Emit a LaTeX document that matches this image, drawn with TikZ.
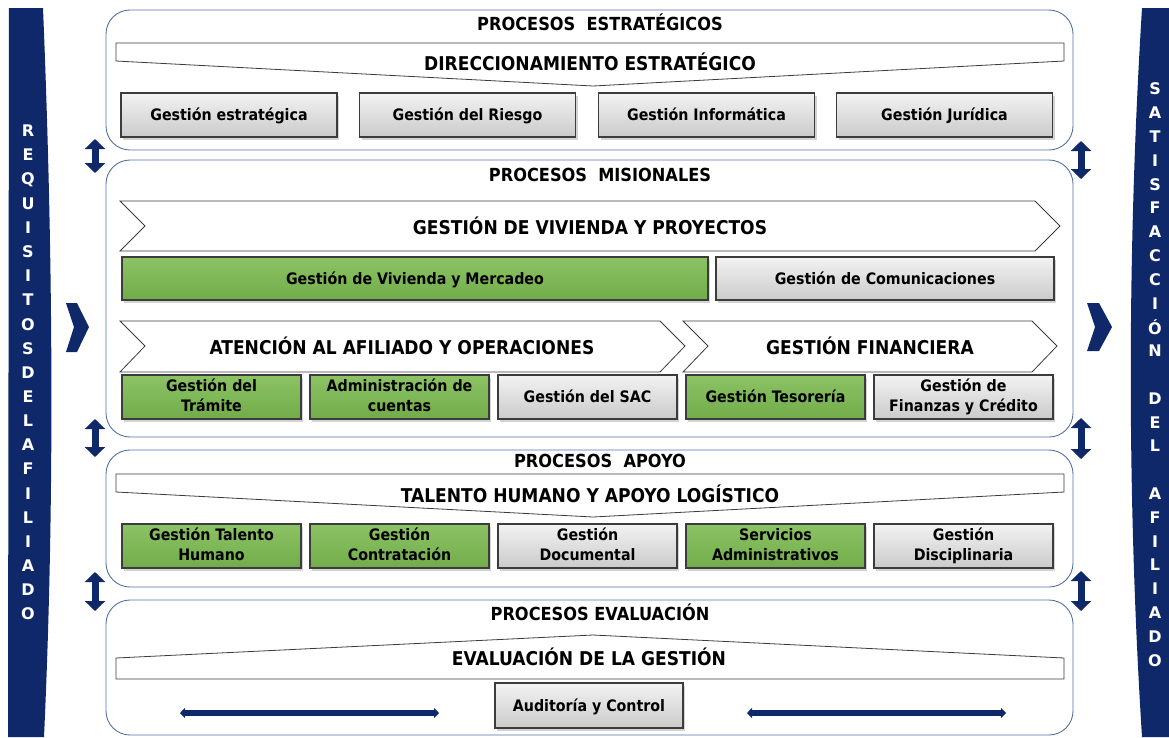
\documentclass[tikz,border=0pt]{standalone}
\usepackage{fontspec}
\usepackage{tikz}
\usetikzlibrary{arrows.meta,shadows}
\setmainfont{DejaVu Sans}
\newfontfamily\condfont{DejaVuSansCondensed-Bold.ttf}
\newfontfamily\sidefont{DejaVuSans-Bold.ttf}

\definecolor{navy}{RGB}{14,40,106}
\definecolor{panelblue}{RGB}{84,114,166}
\definecolor{procgreen}{RGB}{124,187,80}
\definecolor{procgray}{RGB}{230,230,230}
\definecolor{edgegray}{RGB}{60,60,60}

\tikzset{
  panel/.style={draw=panelblue, line width=0.9pt, rounded corners=24pt},
  band/.style={draw=edgegray, line width=0.8pt, fill=white},
  proc/.style={draw=edgegray, line width=1.1pt, top color=white!50!procgray, bottom color=procgray!88!black,
    drop shadow={shadow xshift=2pt, shadow yshift=-2.5pt, opacity=0.35},
    font=\condfont\fontsize{15.8}{19.5}\selectfont, align=center, inner sep=0pt, minimum height=44pt,
    execute at begin node={\vphantom{Ágy}}, execute at end node={\vphantom{Ágy}}},
  greenproc/.style={proc, top color=procgreen!88!white, bottom color=procgreen!92!black},
  title/.style={font=\condfont\fontsize{18}{20}\selectfont},
  bandtext/.style={font=\condfont\fontsize{19}{21}\selectfont},
  sideletter/.style={text=white, font=\sidefont\fontsize{16}{18}\selectfont},
  updown/.style={navy, line width=7pt, {Triangle[width=20pt,length=10pt]}-{Triangle[width=20pt,length=10pt]}},
  sideways/.style={navy, line width=5.5pt, {Triangle[width=10pt,length=5pt]}-{Triangle[width=10pt,length=5pt]}},
}

\begin{document}
\begin{tikzpicture}[x=1pt,y=-1pt]
  \useasboundingbox (0,0) rectangle (1169,737);

  % Side bars
  \fill[navy] (9,8) -- (43,8) .. controls (53,250) and (55,500) .. (44,737) -- (8,737) -- cycle;
  \fill[navy] (1142,8) -- (1169,8) -- (1169,737) -- (1142,737) .. controls (1127,500) and (1127,250) .. (1142,8) -- cycle;
  \foreach \l [count=\i from 0] in {R,E,Q,U,I,S,I,T,O,S,D,E,L,A,F,I,L,I,A,D,O}
    \node[sideletter] (req\i) at (28,131+24.15*\i) {\l};
  \foreach \l [count=\i from 0] in {S,A,T,I,S,F,A,C,C,I,Ó,N,{},D,E,L,{},A,F,I,L,I,A,D,O}
    \node[sideletter] (sat\i) at (1155,89+23.8*\i) {\l};

  % Input / output chevrons
  \fill[navy] (66,303) -- (77,303) -- (89,327) -- (77,352) -- (66,352) -- (74,327) -- cycle;
  \fill[navy] (1087,303) -- (1099,303) -- (1112,327) -- (1099,351) -- (1087,351) -- (1095,327) -- cycle;

  % Panels
  \draw[panel] (106,10) rectangle (1073,150);
  \draw[panel] (106,160) rectangle (1073,437);
  \draw[panel] (106,450) rectangle (1073,587);
  \draw[panel] (106,600) rectangle (1073,735);

  \node[title] (tEst) at (600,22) {PROCESOS\ \ ESTRATÉGICOS};
  \node[title] (tMis) at (600,175) {PROCESOS\ \ MISIONALES};
  \node[title] (tApo) at (600,461) {PROCESOS\ \ APOYO};
  \node[title] (tEva) at (600,612) {PROCESOS EVALUACIÓN};

  % Strategic processes
  \draw[band] (116,43) -- (1064,43) -- (1064,61) -- (593,86) -- (116,61) -- cycle;
  \node[bandtext] (direc) at (590,62) {DIRECCIONAMIENTO ESTRATÉGICO};
  \node[proc, minimum width=216pt] (gEst) at (229,115) {Gestión estratégica};
  \node[proc, minimum width=216pt] (gRie) at (467.5,115) {Gestión del Riesgo};
  \node[proc, minimum width=216pt] (gInf) at (706.5,115) {Gestión Informática};
  \node[proc, minimum width=216pt] (gJur) at (944.5,115) {Gestión Jurídica};

  % Mission processes
  \draw[band] (120,201) -- (1035,201) -- (1060,226) -- (1035,251) -- (120,251) -- (145,226) -- cycle;
  \node[bandtext] (vivi) at (590,226) {GESTIÓN DE VIVIENDA Y PROYECTOS};
  \node[greenproc, minimum width=586pt, minimum height=43pt] (gViv) at (415,278.5) {Gestión de Vivienda y Mercadeo};
  \node[proc, minimum width=338pt, minimum height=43pt] (gCom) at (885,278.5) {Gestión de Comunicaciones};

  \draw[band] (120,321) -- (660,321) -- (685,346) -- (660,372) -- (120,372) -- (145,346) -- cycle;
  \node[bandtext] (aten) at (402,346) {ATENCIÓN AL AFILIADO Y OPERACIONES};
  \draw[band] (683,321) -- (1032,321) -- (1057,346) -- (1032,372) -- (683,372) -- (708,346) -- cycle;
  \node[bandtext] (fina) at (870,346) {GESTIÓN FINANCIERA};
  \node[greenproc, minimum width=179pt] (gTra) at (211.5,397) {Gestión del\\Trámite};
  \node[greenproc, minimum width=179pt] (gCue) at (399.5,397) {Administración de\\cuentas};
  \node[proc, minimum width=179pt] (gSac) at (587.5,397) {Gestión del SAC};
  \node[greenproc, minimum width=179pt] (gTes) at (775.5,397) {Gestión Tesorería};
  \node[proc, minimum width=179pt] (gFin) at (963.5,397) {Gestión de\\Finanzas y Crédito};

  % Support processes
  \draw[band] (116,474) -- (1064,474) -- (1064,492) -- (593,517) -- (116,492) -- cycle;
  \node[bandtext] (tale) at (590,494) {TALENTO HUMANO Y APOYO LOGÍSTICO};
  \node[greenproc, minimum width=179pt] (gHum) at (211.5,546) {Gestión Talento\\Humano};
  \node[greenproc, minimum width=179pt] (gCon) at (399.5,546) {Gestión\\Contratación};
  \node[proc, minimum width=179pt] (gDoc) at (587.5,546) {Gestión\\Documental};
  \node[greenproc, minimum width=179pt] (gAdm) at (775.5,546) {Servicios\\Administrativos};
  \node[proc, minimum width=179pt] (gDis) at (963.5,546) {Gestión\\Disciplinaria};

  % Evaluation processes
  \draw[band] (116,679) -- (1064,679) -- (1064,658) -- (593,635) -- (116,658) -- cycle;
  \node[bandtext] (eval) at (589,657) {EVALUACIÓN DE LA GESTIÓN};
  \node[proc, minimum width=188pt, minimum height=45pt] (gAud) at (589,705.5) {Auditoría y Control};

  % Arrows between panels
  \coordinate (l1a) at (95,139); \coordinate (l1b) at (95,173);
  \coordinate (l2a) at (95,419); \coordinate (l2b) at (95,457);
  \coordinate (l3a) at (95,572); \coordinate (l3b) at (95,611);
  \coordinate (r1a) at (1081,141); \coordinate (r1b) at (1081,179);
  \coordinate (r2a) at (1081,418); \coordinate (r2b) at (1081,459);
  \coordinate (r3a) at (1081,571); \coordinate (r3b) at (1081,611);
  \draw[updown] (l1a) -- (l1b);
  \draw[updown] (l2a) -- (l2b);
  \draw[updown] (l3a) -- (l3b);
  \draw[updown] (r1a) -- (r1b);
  \draw[updown] (r2a) -- (r2b);
  \draw[updown] (r3a) -- (r3b);

  \coordinate (bl1) at (180,713); \coordinate (bl2) at (439,713);
  \coordinate (br1) at (747,713); \coordinate (br2) at (1006,713);
  \draw[sideways] (bl1) -- (bl2);
  \draw[sideways] (br1) -- (br2);
\end{tikzpicture}
\end{document}
